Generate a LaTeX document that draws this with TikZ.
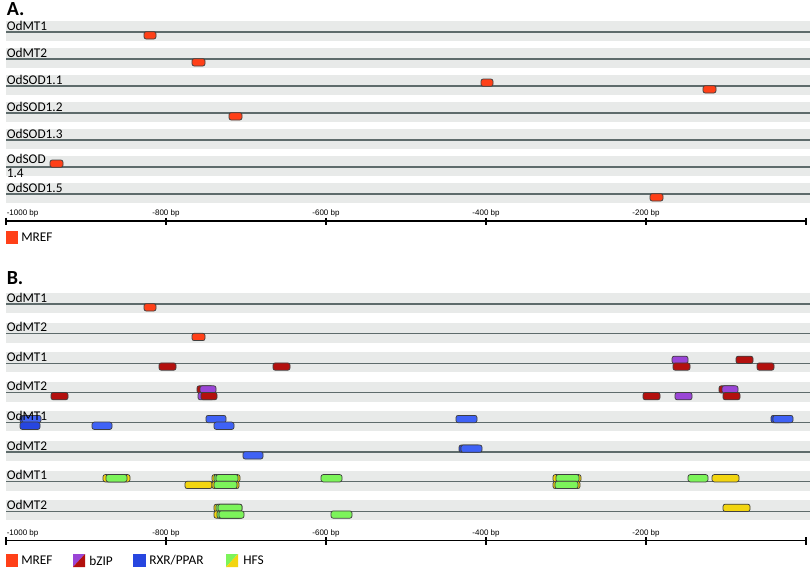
\documentclass[tikz,border=0pt]{standalone}
\usepackage{fontspec}
\setmainfont{Carlito}
\newfontfamily\tickfont{Liberation Sans}
\definecolor{mrefc}{HTML}{FF4018}
\definecolor{bzrc}{HTML}{B3100E}
\definecolor{bzpc}{HTML}{9A45D6}
\definecolor{rxrc}{HTML}{3F62F6}
\definecolor{rxdc}{HTML}{2746E0}
\definecolor{hgc}{HTML}{7CF45A}
\definecolor{hyc}{HTML}{F2D510}
\definecolor{bandc}{HTML}{E8EAE9}
\definecolor{linec}{HTML}{5E6B6B}
\definecolor{bordc}{HTML}{404040}
\newcommand{\boxup}[4]{\draw[#1] (#2,{#4-7}) rectangle (#3,{#4+0.3});}
\newcommand{\boxdn}[4]{\draw[#1] (#2,{#4-0.3}) rectangle (#3,{#4+7});}
\newcommand{\track}[1]{\fill[bandc] (6,{#1-11}) rectangle (810,{#1+9}); \draw[linec, line width=0.8pt] (6,#1) -- (810,#1);}
\begin{document}
\begin{tikzpicture}[x=0.75pt,y=-0.75pt,
  tf/.style={draw=bordc, line width=0.55pt, rounded corners=1.6pt},
  mref/.style={tf, fill=mrefc},
  bzr/.style={tf, fill=bzrc},
  bzp/.style={tf, fill=bzpc},
  rxr/.style={tf, fill=rxrc},
  rxd/.style={tf, fill=rxdc},
  hg/.style={tf, fill=hgc},
  hy/.style={tf, fill=hyc},
  lab/.style={anchor=base west, inner sep=0pt, text height=7pt, text depth=0pt, font=\fontsize{10pt}{11pt}\selectfont},
  ttl/.style={anchor=base west, inner sep=0pt, text depth=0pt, font=\fontsize{15pt}{17pt}\selectfont\bfseries},
  tick/.style={anchor=base, inner sep=0pt, font=\tickfont\fontsize{6pt}{7pt}\selectfont},
  leg/.style={anchor=west, inner sep=0pt, font=\fontsize{10pt}{11pt}\selectfont}]
\useasboundingbox (0,0) rectangle (810,568);
\fill[white] (0,0) rectangle (810,568);

% ---------------- Part A ----------------
\node[ttl] (tA) at (6.5,15) {A.};
\foreach \y in {32,59,86,113,140,167,194} {\track{\y}}
% MREF boxes
\boxdn{mref}{144}{156}{32}
\boxdn{mref}{192}{205}{59}
\boxup{mref}{481}{493}{86}
\boxdn{mref}{703}{716}{86}
\boxdn{mref}{229}{242}{113}
\boxup{mref}{50}{63}{167}
\boxdn{mref}{650}{663}{194}
% labels
\node[lab] (la1) at (6.5,30) {OdMT1};
\node[lab] (la2) at (6.5,57) {OdMT2};
\node[lab] (la3) at (6.5,84) {OdSOD1.1};
\node[lab] (la4) at (6.5,111) {OdSOD1.2};
\node[lab] (la5) at (6.5,138) {OdSOD1.3};
\node[anchor=south west, inner sep=0pt, align=left, font=\fontsize{10pt}{10.2pt}\selectfont] (la6) at (6.5,177.5) {OdSOD\\1.4};
\node[lab] (la7) at (6.5,192) {OdSOD1.5};
% axis A
\draw[line width=0.8pt] (6,221) -- (807,221);
\foreach \x in {6,166,326,486,646,806} {\draw[line width=0.8pt] (\x,217.5) -- (\x,225);}
\node[tick, anchor=base west] (ta1) at (6.5,215.5) {-1000 bp};
\node[tick] (ta2) at (166,215.5) {-800 bp};
\node[tick] (ta3) at (326,215.5) {-600 bp};
\node[tick] (ta4) at (486,215.5) {-400 bp};
\node[tick] (ta5) at (646,215.5) {-200 bp};
% legend A
\fill[mrefc] (6,231) rectangle (18,244);
\node[leg] (lgA) at (21,237.5) {MREF};

% ---------------- Part B ----------------
\node[ttl] (tB) at (6.5,284) {B.};
\foreach \y in {304,333.6,363.2,392.8,422.4,452,481.6,511.2} {\track{\y}}
% row 1,2 MREF
\boxdn{mref}{144}{156}{304}
\boxdn{mref}{192}{205}{333.6}
% row 3 bZIP
\boxdn{bzr}{159}{176}{363.2}
\boxdn{bzr}{273}{290}{363.2}
\boxup{bzp}{672}{688}{363.2}
\boxdn{bzr}{673}{690}{363.2}
\boxup{bzr}{736}{753}{363.2}
\boxdn{bzr}{757}{774}{363.2}
% row 4 bZIP
\boxdn{bzr}{51}{68}{392.8}
\boxup{bzr}{197}{213}{392.8}
\boxup{bzp}{200}{216}{392.8}
\boxdn{bzp}{198}{214}{392.8}
\boxdn{bzr}{201}{217}{392.8}
\boxdn{bzr}{643}{660}{392.8}
\boxdn{bzp}{675}{692}{392.8}
\boxup{bzr}{719}{736}{392.8}
\boxup{bzp}{722}{738}{392.8}
\boxdn{bzr}{723}{740}{392.8}
% row 5 RXR/PPAR
\boxup{rxd}{20}{40}{422.4}
\boxup{rxr}{22}{41}{422.4}
\boxdn{rxd}{20}{40}{422.4}
\boxdn{rxr}{92}{112}{422.4}
\boxup{rxr}{206}{226}{422.4}
\boxdn{rxr}{214}{234}{422.4}
\boxup{rxr}{456}{477}{422.4}
\boxup{rxd}{771}{791}{422.4}
\boxup{rxr}{773}{793}{422.4}
% row 6 RXR/PPAR
\boxdn{rxr}{243}{263}{452}
\boxup{rxd}{459}{480}{452}
\boxup{rxr}{461}{482}{452}
% row 7 HFS
\boxup{hy}{103}{130}{481.6}
\boxup{hg}{106}{127}{481.6}
\boxdn{hy}{185}{212}{481.6}
\boxup{hy}{212}{240}{481.6}
\boxup{hg}{214}{236}{481.6}
\boxup{hg}{216}{238}{481.6}
\boxdn{hy}{212}{239}{481.6}
\boxdn{hg}{214}{237}{481.6}
\boxup{hg}{321}{342}{481.6}
\boxup{hy}{553}{581}{481.6}
\boxup{hg}{556}{579}{481.6}
\boxdn{hy}{553}{580}{481.6}
\boxdn{hg}{555}{578}{481.6}
\boxup{hg}{688}{708}{481.6}
\boxup{hy}{712}{739}{481.6}
% row 8 HFS
\boxup{hy}{214}{242}{511.2}
\boxup{hg}{216}{240}{511.2}
\boxup{hg}{218}{242}{511.2}
\boxdn{hy}{214}{243}{511.2}
\boxdn{hg}{217}{241}{511.2}
\boxdn{hg}{219}{244}{511.2}
\boxdn{hg}{331}{352}{511.2}
\boxup{hy}{723}{750}{511.2}
% labels B
\node[lab] (lb1) at (6.5,302) {OdMT1};
\node[lab] (lb2) at (6.5,331.6) {OdMT2};
\node[lab] (lb3) at (6.5,361.2) {OdMT1};
\node[lab] (lb4) at (6.5,390.8) {OdMT2};
\node[lab] (lb5) at (6.5,420.4) {OdMT1};
\node[lab] (lb6) at (6.5,450) {OdMT2};
\node[lab] (lb7) at (6.5,479.6) {OdMT1};
\node[lab] (lb8) at (6.5,509.2) {OdMT2};
% axis B
\draw[line width=0.8pt] (6,540.7) -- (807,540.7);
\foreach \x in {6,166,326,486,646,806} {\draw[line width=0.8pt] (\x,537) -- (\x,544.5);}
\node[tick, anchor=base west] (tb1) at (6.5,535) {-1000 bp};
\node[tick] (tb2) at (166,535) {-800 bp};
\node[tick] (tb3) at (326,535) {-600 bp};
\node[tick] (tb4) at (486,535) {-400 bp};
\node[tick] (tb5) at (646,535) {-200 bp};
% legend B
\fill[mrefc] (6,554) rectangle (18,567);
\node[leg] (lgB1) at (21,560.5) {MREF};
\fill[bzpc] (73,554) -- (85,554) -- (73,567) -- cycle;
\fill[bzrc] (85,554) -- (85,567) -- (73,567) -- cycle;
\node[leg] (lgB2) at (89,560.5) {bZIP};
\fill[rxdc] (133,554) rectangle (146,567);
\node[leg] (lgB3) at (149,560.5) {RXR/PPAR};
\fill[hgc] (226,554) -- (238,554) -- (226,567) -- cycle;
\fill[hyc] (238,554) -- (238,567) -- (226,567) -- cycle;
\node[leg] (lgB4) at (243,560.5) {HFS};
\end{tikzpicture}
\end{document}
